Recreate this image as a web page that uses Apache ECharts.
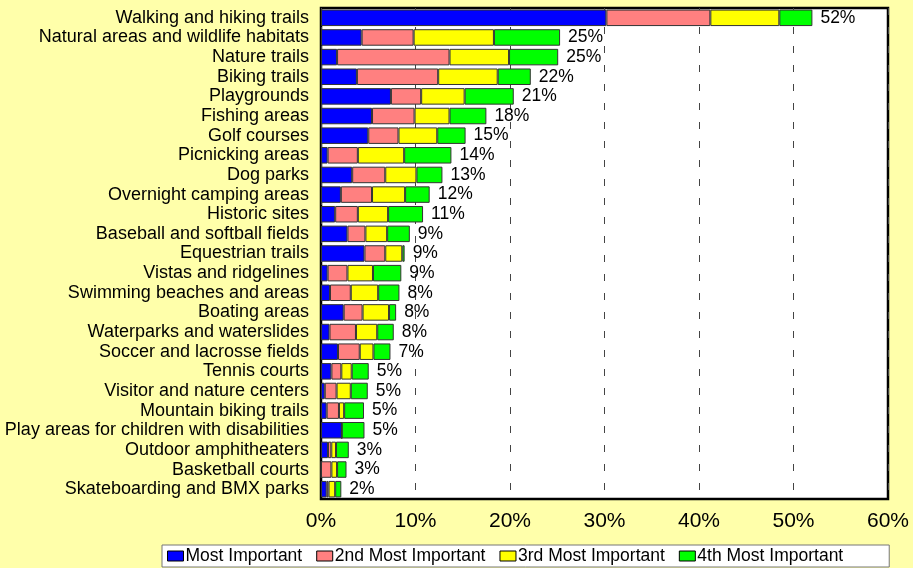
<!DOCTYPE html>
<html>
<head>
<meta charset="utf-8">
<script src="https://cdn.jsdelivr.net/npm/echarts@6/dist/echarts.min.js"></script>
<style>
  html, body { margin: 0; padding: 0; background: #FFFFAA; }
  #chart { width: 913px; height: 568px; }
</style>
</head>
<body>
<div id="chart"></div>
<script>
// facilities, top to bottom
var facilities = [
    "Walking and hiking trails",
    "Natural areas and wildlife habitats",
    "Nature trails",
    "Biking trails",
    "Playgrounds",
    "Fishing areas",
    "Golf courses",
    "Picnicking areas",
    "Dog parks",
    "Overnight camping areas",
    "Historic sites",
    "Baseball and softball fields",
    "Equestrian trails",
    "Vistas and ridgelines",
    "Swimming beaches and areas",
    "Boating areas",
    "Waterparks and waterslides",
    "Soccer and lacrosse fields",
    "Tennis courts",
    "Visitor and nature centers",
    "Mountain biking trails",
    "Play areas for children with disabilities",
    "Outdoor amphitheaters",
    "Basketball courts",
    "Skateboarding and BMX parks"
];

var mostImportant = [30.2, 4.3, 1.7, 3.8, 7.4, 5.4, 5.0, 0.7, 3.3, 2.1, 1.5, 2.8, 4.6, 0.7, 0.95, 2.4, 0.9, 1.8, 1.1, 0.4, 0.6, 2.2, 0.74, 0, 0.6];
var secondImportant = [11.0, 5.5, 11.9, 8.6, 3.2, 4.5, 3.2, 3.2, 3.5, 3.3, 2.4, 1.9, 2.2, 2.1, 2.2, 2.0, 2.8, 2.3, 1.05, 1.25, 1.3, 0, 0.35, 1.1, 0.2];
var thirdImportant = [7.3, 8.5, 6.3, 6.3, 4.6, 3.7, 4.1, 4.9, 3.3, 3.5, 3.2, 2.3, 1.8, 2.7, 2.9, 2.8, 2.25, 1.45, 1.1, 1.5, 0.55, 0, 0.5, 0.6, 0.7];
var fourthImportant = [3.5, 7.0, 5.2, 3.5, 5.2, 3.9, 3.0, 5.0, 2.75, 2.6, 3.7, 2.4, 0.25, 3.0, 2.25, 0.75, 1.75, 1.8, 1.8, 1.8, 2.1, 2.4, 1.35, 1.0, 0.65];

var totalLabels = ["52%", "25%", "25%", "22%", "21%", "18%", "15%", "14%", "13%", "12%", "11%", "9%", "9%", "9%", "8%", "8%", "8%", "7%", "5%", "5%", "5%", "5%", "3%", "3%", "2%"];

var seriesNames = ["Most Important", "2nd Most Important", "3rd Most Important", "4th Most Important"];
var seriesColors = ["#0000FF", "#FF8080", "#FFFF00", "#00FF00"];
var seriesValues = [mostImportant, secondImportant, thirdImportant, fourthImportant];

var font = "Liberation Sans, Arial, sans-serif";

var series = seriesValues.map(function(vals, i) {
    var s = {
        name: seriesNames[i],
        type: "bar",
        stack: "total",
        barWidth: "84%",
        data: vals,
        itemStyle: {
            color: seriesColors[i],
            borderColor: "#333",
            borderWidth: 1
        }
    };
    // totals go on the last segment
    if (i === 3) {
        s.label = {
            show: true,
            position: "right",
            distance: 8,
            color: "#000",
            fontFamily: font,
            fontSize: 17.5,
            formatter: function(p) {
                return totalLabels[p.dataIndex];
            }
        };
    }
    return s;
});

var chart = echarts.init(document.getElementById("chart"));
chart.setOption({
    backgroundColor: "#FFFFAA",
    animation: false,
    textStyle: { fontFamily: font },
    grid: {
        left: 321,
        right: 25,
        top: 8,
        bottom: 69,
        show: true,
        backgroundColor: "#fff",
        borderColor: "#000",
        borderWidth: 2.5
    },
    legend: {
        bottom: 1,
        left: 162,
        data: seriesNames,
        backgroundColor: "#fff",
        borderColor: "#777",
        borderWidth: 1,
        padding: [2, 46, 2, 5],
        itemWidth: 16,
        itemHeight: 10,
        itemGap: 14,
        icon: "rect",
        itemStyle: { borderColor: "#000", borderWidth: 1 },
        textStyle: { fontSize: 17.5, color: "#000", padding: [0, 0, 0, -3] }
    },
    xAxis: {
        type: "value",
        min: 0,
        max: 60,
        interval: 10,
        axisLine: { show: false },
        axisTick: { show: false },
        axisLabel: {
            formatter: "{value}%",
            fontSize: 21,
            color: "#000",
            margin: 12
        },
        splitLine: {
            show: true,
            lineStyle: { color: "#444", type: [7, 12], width: 1 }
        }
    },
    yAxis: {
        type: "category",
        inverse: true,
        data: facilities,
        axisLine: { show: false },
        axisTick: { show: false },
        axisLabel: { interval: 0, fontSize: 18, color: "#000", margin: 12 }
    },
    series: series
});
</script>
</body>
</html>
